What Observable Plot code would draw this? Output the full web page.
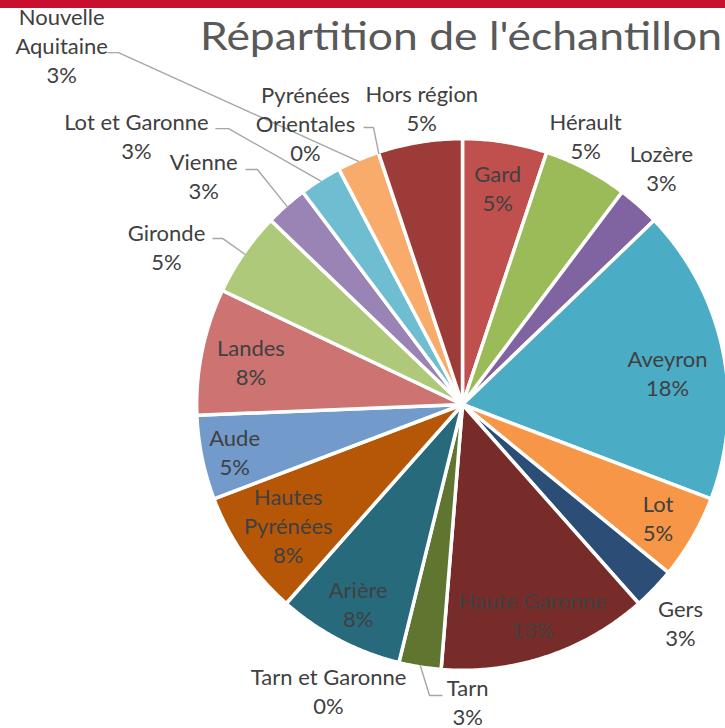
<!DOCTYPE html>
<html>
<head>
<meta charset="utf-8">
<script src="https://cdn.jsdelivr.net/npm/d3@7"></script>
<script src="https://cdn.jsdelivr.net/npm/@observablehq/plot@0.6"></script>
<style>
  html, body { margin: 0; padding: 0; background: white; }
  #chart { position: relative; width: 725px; height: 728px; overflow: hidden; }
</style>
</head>
<body>
<div id="chart"></div>
<script>
// ---- Data (clockwise from 12 o'clock) ----
const names = ["Gard", "Hérault", "Lozère", "Aveyron", "Lot", "Gers", "Haute Garonne", "Tarn",
  "Tarn et Garonne", "Arière", "Hautes Pyrénées", "Aude", "Landes", "Gironde", "Vienne",
  "Lot et Garonne", "Nouvelle Aquitaine", "Pyrénées Orientales", "Hors région"];
const counts = [2, 2, 1, 7, 2, 1, 5, 1, 0, 3, 3, 2, 3, 2, 1, 1, 1, 0, 2];
const colors = ["#C0504D", "#9BBB59", "#8064A2", "#4BACC6", "#F79646", "#2C4D75", "#772C2A", "#5F7530",
  "#4D3B62", "#276A7C", "#B65708", "#729ACA", "#CD7371", "#AFC97A", "#9A84B5",
  "#6FBDD1", "#F9AB6B", "#2C4D75", "#9D3B39"];
const title = "Répartition de l'échantillon";

// ---- Label layout (polar: angle in degrees clockwise from top, radius as fraction of pie radius) ----
const labelLayout = {
  "Gard": {r: 0.833},
  "Hérault": {a: 24.6, r: 1.12},
  "Lozère": {a: 40, r: 1.172},
  "Aveyron": {a: 81.1, r: 0.786},
  "Lot": {r: 0.855},
  "Gers": {a: 135, r: 1.168},
  "Haute Garonne": {r: 0.838},
  "Tarn": {a: 179, r: 1.123, leader: [[-0.125, -1.102], [-0.076, -1.102]]},
  "Tarn et Garonne": {a: 205.1, r: 1.196},
  "Arière": {r: 0.85},
  "Hautes Pyrénées": {r: 0.802, wrap: true},
  "Aude": {r: 0.881},
  "Landes": {r: 0.818},
  "Gironde": {a: 298.2, r: 1.272, leader: [[-0.909, 0.629], [-0.947, 0.629]]},
  "Vienne": {a: 311.5, r: 1.309, leader: [[-0.777, 0.890], [-0.822, 0.890]]},
  "Lot et Garonne": {a: 309.5, r: 1.601, leader: [[-0.886, 1.045], [-0.936, 1.045]]},
  "Nouvelle Aquitaine": {a: 311.9, r: 2.04, wrap: true, leader: [[-1.303, 1.333], [-1.345, 1.333]]},
  "Pyrénées Orientales": {a: 330.9, r: 1.223, wrap: true, leader: [[-0.337, 1.049], [-0.375, 1.049]]},
  "Hors région": {a: 352.2, r: 1.136}
};

// ---- Build slices ----
const total = d3.sum(counts);
let cum = 0;
const slices = names.map((name, i) => {
  const a0 = cum / total * 360;
  cum += counts[i];
  const a1 = cum / total * 360;
  return {name, count: counts[i], a0, a1, mid: (a0 + a1) / 2,
    pct: Math.round(counts[i] / total * 100) + "%"};
});
const rad = d => d * Math.PI / 180;
const R = 1.007;
const polys = [];
for (const s of slices) {
  if (s.count === 0) continue;
  polys.push({name: s.name, x: 0, y: 0});
  const n = Math.max(2, Math.ceil((s.a1 - s.a0) / 0.5));
  for (let k = 0; k <= n; ++k) {
    const a = rad(s.a0 + (s.a1 - s.a0) * k / n);
    polys.push({name: s.name, x: R * Math.sin(a), y: R * Math.cos(a)});
  }
  polys.push({name: s.name, x: 0, y: 0});
}

const labels = slices.map(s => {
  const L = labelLayout[s.name];
  const a = rad(L.a ?? s.mid);
  const nm = L.wrap ? s.name.replace(" ", "\n") : s.name;
  return {name: s.name, x: L.r * Math.sin(a), y: L.r * Math.cos(a), text: nm + "\n" + s.pct};
});

const leaders = [];
for (const s of slices) {
  const L = labelLayout[s.name];
  if (!L.leader) continue;
  const a = rad(s.mid);
  leaders.push({name: s.name, x: Math.sin(a), y: Math.cos(a)});
  for (const [x, y] of L.leader) leaders.push({name: s.name, x, y});
}

const svg = Plot.plot({
  width: 725,
  height: 728,
  style: {fontFamily: "Lato, 'Open Sans', sans-serif", background: "white", overflow: "hidden"},
  x: {domain: [-1, 1], range: [198, 726], axis: null},
  y: {domain: [-1, 1], range: [668, 140], axis: null},
  color: {domain: names, range: colors},
  marks: [
    Plot.line(polys, {x: "x", y: "y", z: "name", fill: "name", stroke: "white", strokeWidth: 3.5,
      strokeLinejoin: "round", curve: "linear"}),
    Plot.line(leaders, {x: "x", y: "y", z: "name", stroke: "#A6A6A6", strokeWidth: 1.4,
      strokeLinecap: "butt", strokeLinejoin: "miter"}),
    Plot.text(labels, {x: "x", y: "y", text: "text", fill: "#404040", fontSize: 22,
      lineHeight: 1.32, lineAnchor: "middle", textAnchor: "middle"})
  ]
});

const sel = d3.select(svg);
sel.append("rect").attr("x", 0).attr("y", 0).attr("width", 725).attr("height", 8).attr("fill", "#C8102E");
sel.append("text")
  .attr("x", 200).attr("y", 50)
  .attr("text-anchor", "start")
  .attr("font-size", 39)
  .attr("font-weight", 400)
  .attr("fill", "#595959")
  .attr("textLength", 522)
  .attr("lengthAdjust", "spacingAndGlyphs")
  .text(title);

document.getElementById("chart").appendChild(svg);
</script>
</body>
</html>
